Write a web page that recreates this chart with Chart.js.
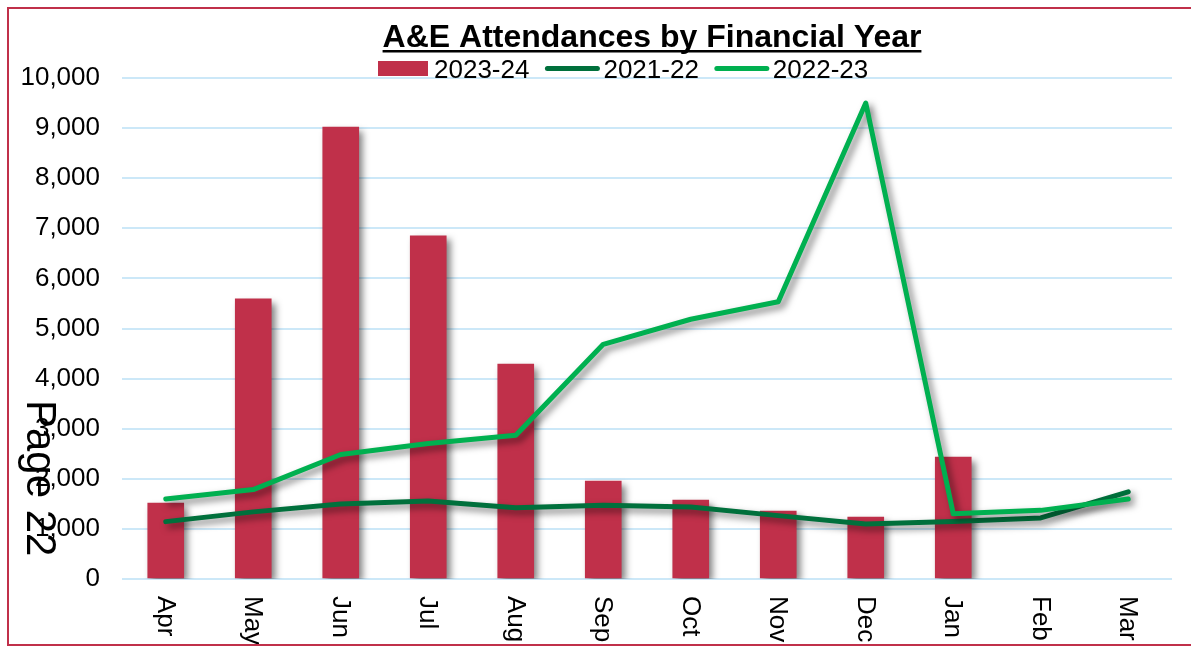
<!DOCTYPE html>
<html>
<head>
<meta charset="utf-8">
<script src="https://cdn.jsdelivr.net/npm/chart.js@4.4.0/dist/chart.umd.min.js"></script>
<style>
  html, body { margin: 0; padding: 0; background: #fff; overflow: hidden; }
  #wrap { position: relative; width: 1191px; height: 646px; overflow: hidden; }
  #frame { position: absolute; left: 7px; top: 7px; width: 1184px; height: 639px; border: 2px solid #C0304A; border-right: none; box-sizing: border-box; pointer-events: none; }
  canvas { display: block; position: absolute; left: 0; top: 0; }
</style>
</head>
<body>
<div id="wrap">
  <canvas id="c" width="1191" height="646"></canvas>
  <div id="frame"></div>
</div>
<script>
const titleText = 'A&E Attendances by Financial Year';
const pageText = 'Page 22';
const categories = ['Apr','May','Jun','Jul','Aug','Sep','Oct','Nov','Dec','Jan','Feb','Mar'];
const seriesNames = ['2023-24', '2021-22', '2022-23'];
const fy2324 = [1515, 5590, 9020, 6850, 4290, 1955, 1575, 1355, 1235, 2435, null, null];
const fy2122 = [1145, 1340, 1495, 1555, 1420, 1470, 1435, 1265, 1100, 1150, 1220, 1740];
const fy2223 = [1595, 1785, 2485, 2705, 2870, 4685, 5185, 5535, 9500, 1300, 1370, 1595];
const yTicks = [0, 1000, 2000, 3000, 4000, 5000, 6000, 7000, 8000, 9000, 10000];

const RED = '#C0304A';
const DARK = '#00703C';
const BRIGHT = '#00B050';
const FONT = '"Liberation Sans", Arial, sans-serif';

const shadowPlugin = {
  id: 'shadow',
  beforeDatasetDraw(chart) {
    const ctx = chart.ctx;
    ctx.save();
    ctx.shadowColor = 'rgba(0,0,0,0.5)';
    ctx.shadowBlur = 7;
    ctx.shadowOffsetX = 4;
    ctx.shadowOffsetY = 4;
  },
  afterDatasetDraw(chart) {
    chart.ctx.restore();
  }
};

const decorPlugin = {
  id: 'decor',
  afterDraw(chart) {
    const ctx = chart.ctx;
    const xs = chart.scales.x;
    ctx.save();
    // Title
    ctx.fillStyle = '#000';
    ctx.font = 'bold 32px ' + FONT;
    ctx.textAlign = 'center';
    ctx.textBaseline = 'alphabetic';
    const tx = 652, ty = 47;
    ctx.fillText(titleText, tx, ty);
    const tw = ctx.measureText(titleText).width;
    ctx.fillRect(tx - tw / 2, ty + 3, tw, 2.5);

    // Legend
    ctx.font = '26px ' + FONT;
    ctx.textAlign = 'left';
    let x = 378;
    const ly = 68.5;
    ctx.fillStyle = RED;
    ctx.fillRect(x, 61, 50, 15);
    x += 56;
    ctx.fillStyle = '#000';
    ctx.fillText(seriesNames[0], x, 78);
    x += ctx.measureText(seriesNames[0]).width + 16;
    const lineItems = [[seriesNames[1], DARK], [seriesNames[2], BRIGHT]];
    for (const [name, col] of lineItems) {
      ctx.strokeStyle = col;
      ctx.lineWidth = 5;
      ctx.lineCap = 'round';
      ctx.beginPath();
      ctx.moveTo(x + 2, ly);
      ctx.lineTo(x + 52, ly);
      ctx.stroke();
      x += 58;
      ctx.fillStyle = '#000';
      ctx.fillText(name, x, 78);
      x += ctx.measureText(name).width + 16;
    }

    // X labels rotated clockwise
    ctx.font = '26px ' + FONT;
    ctx.fillStyle = '#000';
    ctx.textAlign = 'left';
    ctx.textBaseline = 'middle';
    categories.forEach((c, i) => {
      const px = xs.getPixelForValue(i);
      ctx.save();
      ctx.translate(px - 1, 596);
      ctx.rotate(Math.PI / 2);
      ctx.fillText(c, 0, 0);
      ctx.restore();
    });

    // Page overlay text
    ctx.font = '42px ' + FONT;
    ctx.textBaseline = 'alphabetic';
    ctx.save();
    ctx.translate(27, 400);
    ctx.rotate(Math.PI / 2);
    ctx.fillText(pageText, 0, 0);
    ctx.restore();
    ctx.restore();
  }
};

new Chart(document.getElementById('c'), {
  type: 'bar',
  data: {
    labels: categories,
    datasets: [
      { type: 'bar', label: seriesNames[0], data: fy2324, backgroundColor: RED, borderWidth: 0, barThickness: 36, order: 3 },
      { type: 'line', label: seriesNames[1], data: fy2122, borderColor: DARK, backgroundColor: DARK, borderWidth: 5, pointRadius: 0, tension: 0, borderJoinStyle: 'round', borderCapStyle: 'round', order: 2 },
      { type: 'line', label: seriesNames[2], data: fy2223, borderColor: BRIGHT, backgroundColor: BRIGHT, borderWidth: 5, pointRadius: 0, tension: 0, borderJoinStyle: 'round', borderCapStyle: 'round', order: 1 }
    ]
  },
  options: {
    responsive: false,
    animation: false,
    devicePixelRatio: 1,
    layout: { padding: { left: 0, top: 78, right: 19, bottom: 67 } },
    plugins: {
      legend: { display: false },
      title: { display: false },
      tooltip: { enabled: false }
    },
    scales: {
      x: {
        offset: true,
        grid: { display: false, drawTicks: false },
        border: { display: false },
        ticks: { display: false }
      },
      y: {
        min: 0,
        max: 10000,
        afterFit(scale) { scale.width = 122; },
        afterBuildTicks(scale) { scale.ticks = yTicks.map(v => ({ value: v })); },
        grid: { color: '#CCE8F8', lineWidth: 2, drawTicks: false },
        border: { display: false },
        ticks: {
          padding: 22,
          color: '#000',
          font: { family: FONT, size: 26 },
          callback: v => Number(v).toLocaleString('en-US')
        }
      }
    }
  },
  plugins: [shadowPlugin, decorPlugin]
});
</script>
</body>
</html>
